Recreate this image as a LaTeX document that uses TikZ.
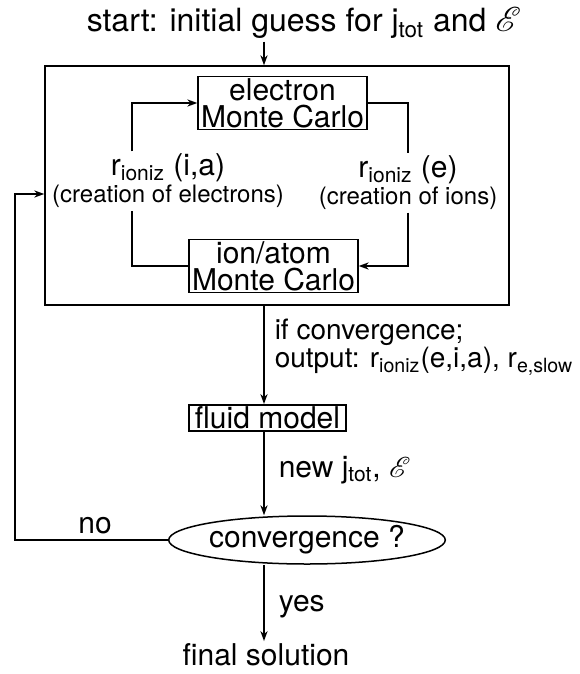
\documentclass[tikz,border=0pt]{standalone}
\usepackage{fontspec}
\setmainfont{TeX Gyre Heros}
\usepackage{mathrsfs}
\usetikzlibrary{arrows.meta,fit,shapes.geometric,positioning}
\newcommand{\low}[1]{\textsubscript{#1}}

\begin{document}
\begin{tikzpicture}
    [
        x=0.5pt,
        y=-0.5pt,
        line width=0.75pt,
        >={Stealth[length=5pt,width=3.6pt]},
        font=\fontsize{15}{13.5}\selectfont,
        mc box/.style={draw, align=center, inner xsep=1.5pt, inner ysep=1pt},
        loop frame/.style={draw, inner sep=0pt},
        rate/.style={align=center, inner sep=1pt},
        decision/.style={draw, shape=ellipse, inner sep=0pt,
            minimum width=127.5pt, minimum height=24pt},
        flow/.style={->},
        note/.style={align=left, anchor=west, inner sep=0pt}
    ]
    \useasboundingbox (0,0) rectangle (579,674);

    \coordinate (axis) at (264,0);
    \coordinate (left bend) at (132,0);
    \coordinate (reentry) at (15,194);

    \node (start) [anchor=base west, inner sep=1pt,
        font=\fontsize{16}{18}\selectfont] at (84,32)
        {start: initial guess for j\low{tot} and $\mathscr{E}$};

    \node (loop) [loop frame, fit={(45,66) (509,305)}] {};

    \node (electron mc) [mc box] at (282.5,103) {electron\\Monte Carlo};
    \node (ion mc)      [mc box] at (273.5,266) {ion/atom\\Monte Carlo};

    \node (rate ia) [rate] at (168,181)
        {r\low{ioniz} (i,a)\\{\fontsize{12}{14}\selectfont (creation of electrons)}};
    \node (rate e) [rate] at (408,183)
        {r\low{ioniz} (e)\\{\fontsize{12}{14}\selectfont (creation of ions)}};

    \node (fluid) [mc box, inner xsep=3pt] at (267.5,418) {fluid model};
    \node (check) [decision] at (307,540) {convergence ?};
    \node (final) [inner sep=1pt] at (266,655) {final solution};

    \node (passed) [note, font=\fontsize{14}{12}\selectfont] at (274,347)
        {if convergence;\\output: r\low{ioniz}(e,i,a), r\low{e,slow}};
    \node (update) [note] at (278,470) {new j\low{tot}, $\mathscr{E}$};
    \node (yes)    [note] at (278,607) {yes};
    \node (no)     [inner sep=1pt] at (95,526) {no};

    \draw [flow] (start.south -| axis) -- (loop.north -| axis);
    \draw (ion mc.west) -| (left bend |- rate ia.south);
    \draw [flow] (left bend |- rate ia.north) |- (electron mc.west);
    \draw (electron mc.east) -| (rate e.north);
    \draw [flow] (rate e.south) |- (ion mc.east);
    \draw [flow] (loop.south -| axis) -- (fluid.north -| axis);
    \draw [flow] (fluid.south -| axis) -- (check.north -| axis);
    \draw [flow] (check.south -| axis) -- (final.north -| axis);
    \draw [flow] (check.west) -| (reentry) -- (reentry -| loop.west);

\end{tikzpicture}
\end{document}
